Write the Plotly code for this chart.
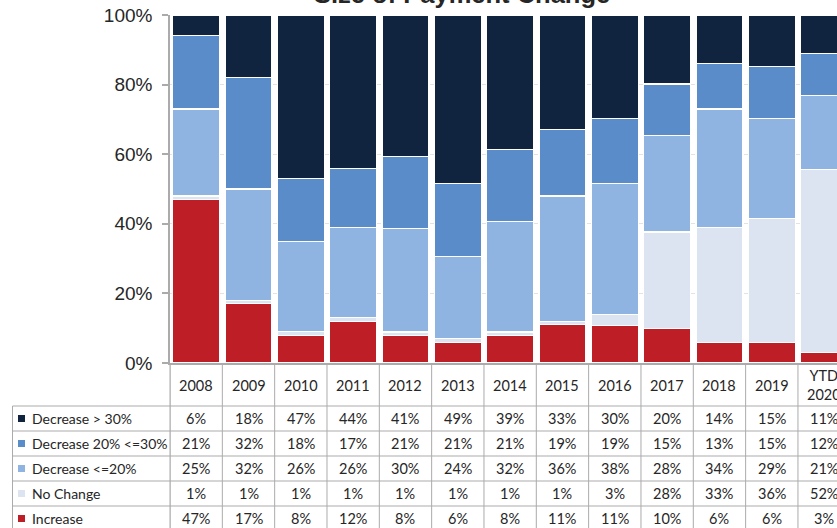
import plotly.graph_objects as go

years = ["2008", "2009", "2010", "2011", "2012", "2013", "2014", "2015",
         "2016", "2017", "2018", "2019", "YTD 2020"]
year_labels = ["2008", "2009", "2010", "2011", "2012", "2013", "2014", "2015",
               "2016", "2017", "2018", "2019", "YTD<br>2020"]

dec_gt30 = [6, 18, 47, 44, 41, 49, 39, 33, 30, 20, 14, 15, 11]
dec_20_30 = [21, 32, 18, 17, 21, 21, 21, 19, 19, 15, 13, 15, 12]
dec_le20 = [25, 32, 26, 26, 30, 24, 32, 36, 38, 28, 34, 29, 21]
no_change = [1, 1, 1, 1, 1, 1, 1, 1, 3, 28, 33, 36, 52]
increase = [47, 17, 8, 12, 8, 6, 8, 11, 11, 10, 6, 6, 3]

series_names = ["Decrease > 30%", "Decrease 20% <=30%", "Decrease <=20%", "No Change", "Increase"]
series_vals = [dec_gt30, dec_20_30, dec_le20, no_change, increase]
series_colors = ["#10233f", "#5a8cc9", "#8fb4e1", "#dde4f1", "#be1e25"]

title_text = "Size of Payment Change"

W, H = 837, 528
L, T, B = 170, 15, 165
PW = W - L
PH = H - T - B
BOTTOM = H - B  # pixel y of 0%


def px_x(p):
    return (p - L) / PW


def px_y(p):
    return (BOTTOM - p) / PH


fig = go.Figure()
# stacked from bottom: Increase, No Change, Dec <=20, Dec 20-30, Dec >30
for name, vals, col in reversed(list(zip(series_names, series_vals, series_colors))):
    fig.add_trace(go.Bar(
        x=years, y=vals, name=name,
        marker=dict(color=col, line=dict(color="#ffffff", width=1.2)),
        showlegend=False,
    ))

line_col = "#ababab"
text_col = "#262626"
tfont = dict(family="Lato, Calibri, sans-serif", size=14, color=text_col)
nfont = dict(family="Lato, Calibri, sans-serif", size=14.5, color=text_col)

shapes = []
annotations = []

# vertical table lines at category boundaries
for k in range(len(years) + 1):
    shapes.append(dict(type="line", xref="x", yref="paper",
                       x0=k - 0.5, x1=k - 0.5, y0=0, y1=px_y(H + 5),
                       line=dict(color=line_col, width=1), layer="above"))
# left edge line of first column (paper ref, not clipped)
shapes.append(dict(type="line", xref="paper", yref="paper",
                   x0=0, x1=0, y0=0, y1=px_y(H + 5),
                   line=dict(color=line_col, width=1)))
shapes.append(dict(type="line", xref="paper", yref="paper",
                   x0=px_x(12.5), x1=px_x(12.5), y0=px_y(406), y1=px_y(H + 5),
                   line=dict(color=line_col, width=1)))

row_lines = [406, 431, 456, 481, 506, 531]
for r in row_lines:
    shapes.append(dict(type="line", xref="paper", yref="paper",
                       x0=px_x(12.5), x1=1, y0=px_y(r), y1=px_y(r),
                       line=dict(color=line_col, width=1)))

# header labels (x given as category index)
for i, lab in enumerate(year_labels):
    annotations.append(dict(x=i, xref="x", y=px_y(385), yref="paper",
                            text=lab, showarrow=False, font=nfont,
                            xanchor="center", yanchor="middle"))

# rows
for r_i, (name, vals, col) in enumerate(zip(series_names, series_vals, series_colors)):
    cy = row_lines[r_i] + 12.5
    shapes.append(dict(type="rect", xref="paper", yref="paper",
                       x0=px_x(18), x1=px_x(25), y0=px_y(cy - 3.5), y1=px_y(cy + 3.5),
                       fillcolor=col, line=dict(width=0)))
    annotations.append(dict(x=px_x(30), xref="paper", y=px_y(cy), yref="paper",
                            text=name, showarrow=False, font=tfont,
                            xanchor="left", yanchor="middle"))
    for i, v in enumerate(vals):
        annotations.append(dict(x=i, xref="x", y=px_y(cy), yref="paper",
                                text=f"{v}%", showarrow=False, font=nfont,
                                xanchor="center", yanchor="middle"))

# title (cut off at top as in the reference)
annotations.append(dict(x=px_x(462), xref="paper", y=px_y(-6), yref="paper",
                        text=f"<b>{title_text}</b>", showarrow=False,
                        font=dict(family="Liberation Sans, Arial, sans-serif", size=25.5, color="#262626"),
                        xanchor="center", yanchor="middle"))

fig.update_layout(
    width=W, height=H,
    margin=dict(l=L, r=0, t=T, b=B, pad=0),
    paper_bgcolor="white", plot_bgcolor="white",
    barmode="stack", barnorm="fraction", bargap=0.1,
    shapes=shapes, annotations=annotations,
    font=dict(family="Liberation Sans, Arial, sans-serif"),
    xaxis=dict(type="category", range=[-0.5, -0.5 + PW / 52.33],
               showticklabels=False, ticks="", showgrid=False,
               showline=True, linecolor=line_col, linewidth=1.5, zeroline=False),
    yaxis=dict(range=[0, 1], dtick=0.2, tickformat=".0%",
               showgrid=True, gridcolor="#e3e3e3", gridwidth=1,
               showline=True, linecolor=line_col, linewidth=1.5,
               ticks="outside", ticklen=6, tickcolor=line_col, tickwidth=1.5,
               ticklabelstandoff=6, zeroline=False,
               tickfont=dict(family="Liberation Sans, Arial, sans-serif", size=19, color="#262626")),
)

fig.write_html("out.html")
